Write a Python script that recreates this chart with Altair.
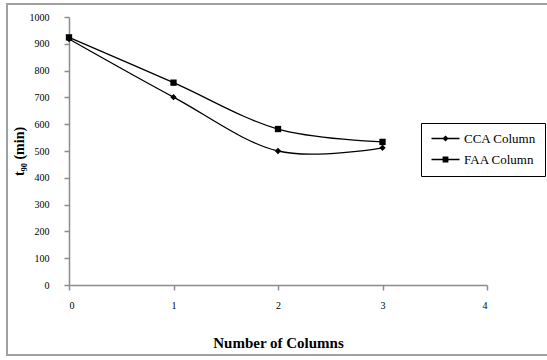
import altair as alt
import pandas as pd

# Number of columns in series
columns = [0, 1, 2, 3]
# t90 (min) for each configuration
cca_t90 = [918, 701, 500, 512]
faa_t90 = [924, 755, 582, 534]
series_names = ["CCA Column", "FAA Column"]
y_ticks = [0, 100, 200, 300, 400, 500, 600, 700, 800, 900, 1000]
x_ticks = [0, 1, 2, 3, 4]

rows = []
for name, vals in zip(series_names, [cca_t90, faa_t90]):
    for c, v in zip(columns, vals):
        rows.append({"columns": c, "t90": v, "series": name})
df = pd.DataFrame(rows)

FONT = "Liberation Serif"

# legend glyphs: a thin bar (line sample) with the series marker in its middle
legend_diamond = "M-1,-0.13H4.6V0.13H-1Z M1.8,-0.62L2.42,0L1.8,0.62L1.18,0Z"
legend_square = "M-1,-0.13H4.6V0.13H-1Z M1.22,-0.58H2.38V0.58H1.22Z"

x_enc = alt.X(
    "columns:Q",
    scale=alt.Scale(domain=[0, 4], nice=False),
    axis=alt.Axis(
        values=x_ticks, format="d", title="Number of Columns",
        grid=False, domainColor="#8c8c8c", domainWidth=1.5,
        tickColor="#8c8c8c", tickSize=5, tickWidth=1.5,
        labelFont=FONT, labelFontSize=10, labelPadding=10, labelColor="black",
        titleFont=FONT, titleFontSize=15, titleFontWeight="bold", titleColor="black",
        titleY=57, titleBaseline="middle",
    ),
)
y_enc = alt.Y(
    "t90:Q",
    scale=alt.Scale(domain=[0, 1000], nice=False),
    axis=alt.Axis(
        values=y_ticks, format="d", title="t₉₀ (min)", labelOverlap=False,
        grid=False, domainColor="#8c8c8c", domainWidth=1.5,
        tickColor="#8c8c8c", tickSize=5, tickWidth=1.5,
        labelFont=FONT, labelFontSize=10, labelPadding=15, labelColor="black",
        titleFont=FONT, titleFontSize=14, titleFontWeight="bold", titleColor="black",
        titleX=-50, titleY=134, titleAngle=-90, titleAlign="center", titleBaseline="middle",
    ),
)

base = alt.Chart(df).encode(x=x_enc, y=y_enc)

lines = base.mark_line(
    interpolate="cardinal", color="black", strokeWidth=1.3
).encode(detail="series:N")

points = base.mark_point(
    filled=True, size=40, opacity=1, color="black"
).encode(
    shape=alt.Shape(
        "series:N",
        scale=alt.Scale(domain=series_names, range=["diamond", "square"]),
        legend=None,
    )
)

# transparent layer that only carries the legend
legend_layer = base.mark_point(
    filled=True, color="black", size=100, opacity=0
).encode(
    shape=alt.Shape(
        "series:N",
        scale=alt.Scale(domain=series_names, range=[legend_diamond, legend_square]),
        legend=alt.Legend(
            title=None, orient="none", legendX=352, legendY=106,
            strokeColor="black", padding=9, fillColor="white",
            symbolFillColor="black", symbolOpacity=1, symbolSize=100,
            symbolStrokeWidth=0,
            labelFont=FONT, labelFontSize=13, labelColor="black", labelOffset=21,
            rowPadding=7,
        ),
    )
)

# outer chart frame
frame = alt.Chart(df).mark_rect(
    fill=None, stroke="#a0a0a0", strokeWidth=2
).encode(
    x=alt.value(-62), x2=alt.value(500), y=alt.value(-13), y2=alt.value(338)
)

chart = alt.layer(frame, lines, points, legend_layer).resolve_scale(
    shape="independent"
).properties(
    width=418,
    height=268,
    autosize=alt.AutoSizeParams(type="none"),
    padding={"left": 69, "top": 17, "right": 60, "bottom": 75},
    background="white",
).configure_view(stroke=None)

chart.save("out.html", embed_options={"renderer": "svg", "actions": False})
